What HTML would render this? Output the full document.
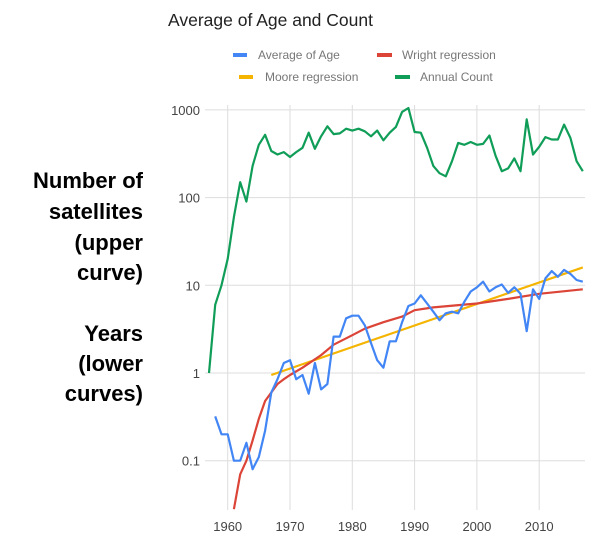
<!DOCTYPE html>
<html><head><meta charset="utf-8"><style>
body{margin:0;background:#fff;width:600px;height:538px;overflow:hidden;font-family:"Liberation Sans",Arial,sans-serif}
</style></head><body>
<svg id="c" width="600" height="538" xmlns="http://www.w3.org/2000/svg">
<text x="168" y="26" font-size="17.5" fill="#222">Average of Age and Count</text>
<g font-size="12" fill="#777">
<g><rect x="233" y="53" width="14" height="4" fill="#4285f4"/><text x="258" y="59">Average of Age</text></g>
<g><rect x="377" y="53" width="15" height="4" fill="#db4437"/><text x="402" y="59">Wright regression</text></g>
<g><rect x="239" y="75" width="14" height="4" fill="#f4b400"/><text x="265" y="81">Moore regression</text></g>
<g><rect x="395" y="75" width="15" height="4" fill="#0f9d58"/><text x="420" y="81">Annual Count</text></g>
</g>
<g font-size="22" font-weight="bold" fill="#000" text-anchor="end">
<text x="143" y="188">Number of</text><text x="143" y="219">satellites</text><text x="143" y="250">(upper</text><text x="143" y="280">curve)</text>
<text x="143" y="341">Years</text><text x="143" y="371">(lower</text><text x="143" y="401">curves)</text>
</g>
<defs><clipPath id="pc"><rect x="205" y="100" width="380" height="410"/></clipPath></defs>
<g id="grid"></g><g id="series" clip-path="url(#pc)"></g><g id="labels"></g>
</svg>
<script>
const yTicks=[1000,100,10,1,0.1];
const yTickLabels=["1000","100","10","1","0.1"];
const xTicks=[1960,1970,1980,1990,2000,2010];
const countYears=[1957,1958,1959,1960,1961,1962,1963,1964,1965,1966,1967,1968,1969,1970,1971,1972,1973,1974,1975,1976,1977,1978,1979,1980,1981,1982,1983,1984,1985,1986,1987,1988,1989,1990,1991,1992,1993,1994,1995,1996,1997,1998,1999,2000,2001,2002,2003,2004,2005,2006,2007,2008,2009,2010,2011,2012,2013,2014,2015,2016,2017];
const countValues=[1,6,10,20,60,150,90,230,400,520,340,310,330,290,330,370,550,360,500,650,530,540,610,580,610,570,500,580,450,550,640,950,1050,560,550,370,230,190,175,260,420,400,430,400,410,510,300,200,215,280,200,780,310,380,490,460,460,680,480,260,200];
const ageYears=[1958,1959,1960,1961,1962,1963,1964,1965,1966,1967,1968,1969,1970,1971,1972,1973,1974,1975,1976,1977,1978,1979,1980,1981,1982,1983,1984,1985,1986,1987,1988,1989,1990,1991,1992,1993,1994,1995,1996,1997,1998,1999,2000,2001,2002,2003,2004,2005,2006,2007,2008,2009,2010,2011,2012,2013,2014,2015,2016,2017];
const ageValues=[0.32,0.2,0.2,0.1,0.1,0.16,0.08,0.11,0.22,0.6,0.85,1.3,1.4,0.85,0.95,0.58,1.3,0.65,0.75,2.6,2.6,4.2,4.5,4.5,3.5,2.2,1.4,1.15,2.3,2.3,3.8,5.8,6.2,7.7,6.2,5,4,4.8,5,4.8,6.5,8.5,9.5,11,8.5,9.5,10.2,8.2,9.5,8,3,9,7,12,14.5,12.5,15,13.5,11.5,11];
const wrightYears=[1961,1962,1963,1964,1965,1966,1967,1968,1969,1970,1972,1975,1977,1980,1982,1985,1988,1990,1993,2000,2005,2010,2017];
const wrightValues=[0.028,0.07,0.1,0.17,0.3,0.48,0.6,0.75,0.85,0.95,1.15,1.6,2.1,2.7,3.2,3.8,4.4,5.2,5.6,6.2,7,8,9];
const mooreYears=[1967,2017];
const mooreValues=[0.95,16];
const NS="http://www.w3.org/2000/svg";
const X=yr=>227.7+(yr-1960)*6.23;
const Y=v=>373-Math.log10(v)*87.7;
const grid=document.getElementById('grid'),labels=document.getElementById('labels'),series=document.getElementById('series');
function mk(tag,attrs,parent){const e=document.createElementNS(NS,tag);for(const k in attrs)e.setAttribute(k,attrs[k]);parent.appendChild(e);return e;}
yTicks.forEach((t,i)=>{
  const l=mk('line',{x1:205,x2:585,y1:Y(t),y2:Y(t),stroke:'#ddd','stroke-width':1},grid);
  
  
  const tx=mk('text',{x:200,y:Y(t)+5,'text-anchor':'end','font-size':13,fill:'#444'},labels);
  tx.textContent=yTickLabels[i];
  
  
});
xTicks.forEach(t=>{
  const l=mk('line',{x1:X(t),x2:X(t),y1:105,y2:510,stroke:'#ddd','stroke-width':1},grid);
  
  
  const tx=mk('text',{x:X(t),y:531,'text-anchor':'middle','font-size':13,fill:'#444'},labels);
  tx.textContent=String(t);
  
  
});
function line(xs,vs,color,name){
  const d=xs.map((x,i)=>(i?'L':'M')+X(x).toFixed(1)+','+Y(vs[i]).toFixed(1)).join('');
  const p=mk('path',{d:d,fill:'none',stroke:color,'stroke-width':2.2,'stroke-linejoin':'round'},series);
  
  
}
line(mooreYears,mooreValues,'#f4b400','moore-regression-line');
line(wrightYears,wrightValues,'#db4437','wright-regression-line');
line(ageYears,ageValues,'#4285f4','average-age-line');
line(countYears,countValues,'#0f9d58','annual-count-line');
</script>
</body></html>
